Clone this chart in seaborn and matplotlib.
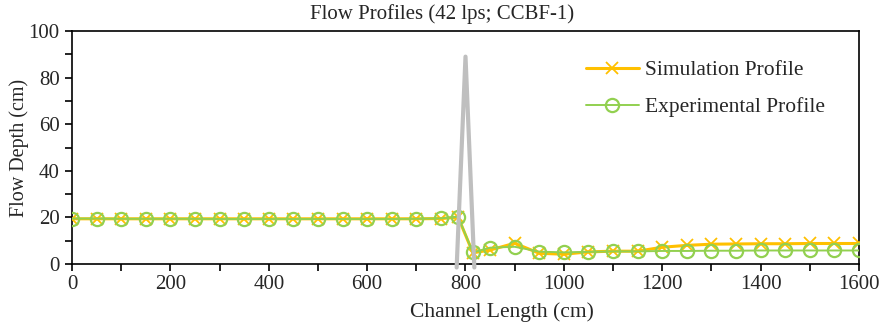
import numpy as np
import pandas as pd
import matplotlib
matplotlib.use("Agg")
import matplotlib.pyplot as plt
import seaborn as sns
from matplotlib.ticker import MultipleLocator

# ---- data ----
x_pos = [0, 50, 100, 150, 200, 250, 300, 350, 400, 450, 500, 550, 600, 650, 700, 750, 785,
         815, 850, 900, 950, 1000, 1050, 1100, 1150, 1200, 1250, 1300, 1350, 1400, 1450, 1500, 1550, 1600]
sim_depth = [19.4, 19.4, 19.4, 19.4, 19.4, 19.4, 19.4, 19.4, 19.4, 19.4, 19.4, 19.4, 19.4, 19.4, 19.4, 19.5, 20.1,
             4.8, 6.0, 8.9, 4.6, 4.2, 5.2, 5.5, 5.5, 7.2, 8.0, 8.5, 8.6, 8.7, 8.7, 8.8, 8.8, 8.8]
exp_depth = [19.5, 19.5, 19.4, 19.4, 19.4, 19.4, 19.3, 19.3, 19.3, 19.3, 19.3, 19.3, 19.3, 19.3, 19.4, 19.6, 20.3,
             5.0, 7.0, 7.4, 5.3, 5.0, 5.2, 5.4, 5.4, 5.6, 5.6, 5.7, 5.7, 5.8, 5.8, 5.8, 5.8, 5.8]
weir_x = [782, 800, 818]
weir_y = [-1.5, 89, -1.5]

title = "Flow Profiles (42 lps; CCBF-1)"
xlabel = "Channel Length (cm)"
ylabel = "Flow Depth (cm)"
sim_label = "Simulation Profile"
exp_label = "Experimental Profile"

sns.set_style("white")
plt.rcParams['font.family'] = ['Liberation Serif', 'DejaVu Serif']

df = pd.DataFrame({"x": x_pos, "sim": sim_depth, "exp": exp_depth})
wdf = pd.DataFrame({"x": weir_x, "y": weir_y})

W, H = 882, 324
fig = plt.figure(figsize=(W / 100, H / 100), dpi=100)
ax = fig.add_axes([72 / W, 1 - 264 / H, (859 - 72) / W, (264 - 31) / H])

sns.lineplot(data=df, x="x", y="sim", ax=ax, color="#FFC000", linewidth=2.2,
             marker="x", markersize=8, markeredgewidth=1.3, markeredgecolor="#FFC000",
             label=sim_label, sort=False, zorder=3)
sns.lineplot(data=df, x="x", y="exp", ax=ax, color="#92D050", linewidth=1.4,
             marker="o", markersize=9.5, markeredgewidth=1.6, markerfacecolor="none",
             markeredgecolor="#92D050", label=exp_label, sort=False, zorder=4)
sns.lineplot(data=wdf, x="x", y="y", ax=ax, color="#BFBFBF", linewidth=3,
             sort=False, zorder=5, legend=False)
ax.lines[-1].set_clip_on(False)

ax.set_xlim(0, 1600)
ax.set_ylim(0, 100)
ax.xaxis.set_major_locator(MultipleLocator(200))
ax.xaxis.set_minor_locator(MultipleLocator(100))
ax.yaxis.set_major_locator(MultipleLocator(20))
ax.yaxis.set_minor_locator(MultipleLocator(10))
ax.tick_params(axis="both", which="both", direction="out", length=5, width=1.2,
               color="black", labelsize=15)
ax.tick_params(axis="x", which="both", bottom=True, pad=3)
ax.tick_params(axis="y", which="both", left=True, pad=4)
for s in ax.spines.values():
    s.set_visible(True)
    s.set_color("black")
    s.set_linewidth(1.2)

ax.set_xlabel("")
ax.set_ylabel("")
fig.text(442 / W, 1 - 14 / H, title, fontsize=15, ha="center", va="center")
fig.text(502 / W, 1 - 312 / H, xlabel, fontsize=15.5, ha="center", va="center")
fig.text(19 / W, 1 - 148 / H, ylabel, fontsize=14.5, ha="center", va="center", rotation=90)

leg = ax.legend(loc="upper left", bbox_to_anchor=((586 - 72) / (859 - 72), 1 - (60 - 31) / (264 - 31)),
                frameon=False, fontsize=15.5, handlelength=2.45, handletextpad=0.3,
                labelspacing=0.8, borderaxespad=0, borderpad=0)

fig.savefig("out.png", dpi=100)
